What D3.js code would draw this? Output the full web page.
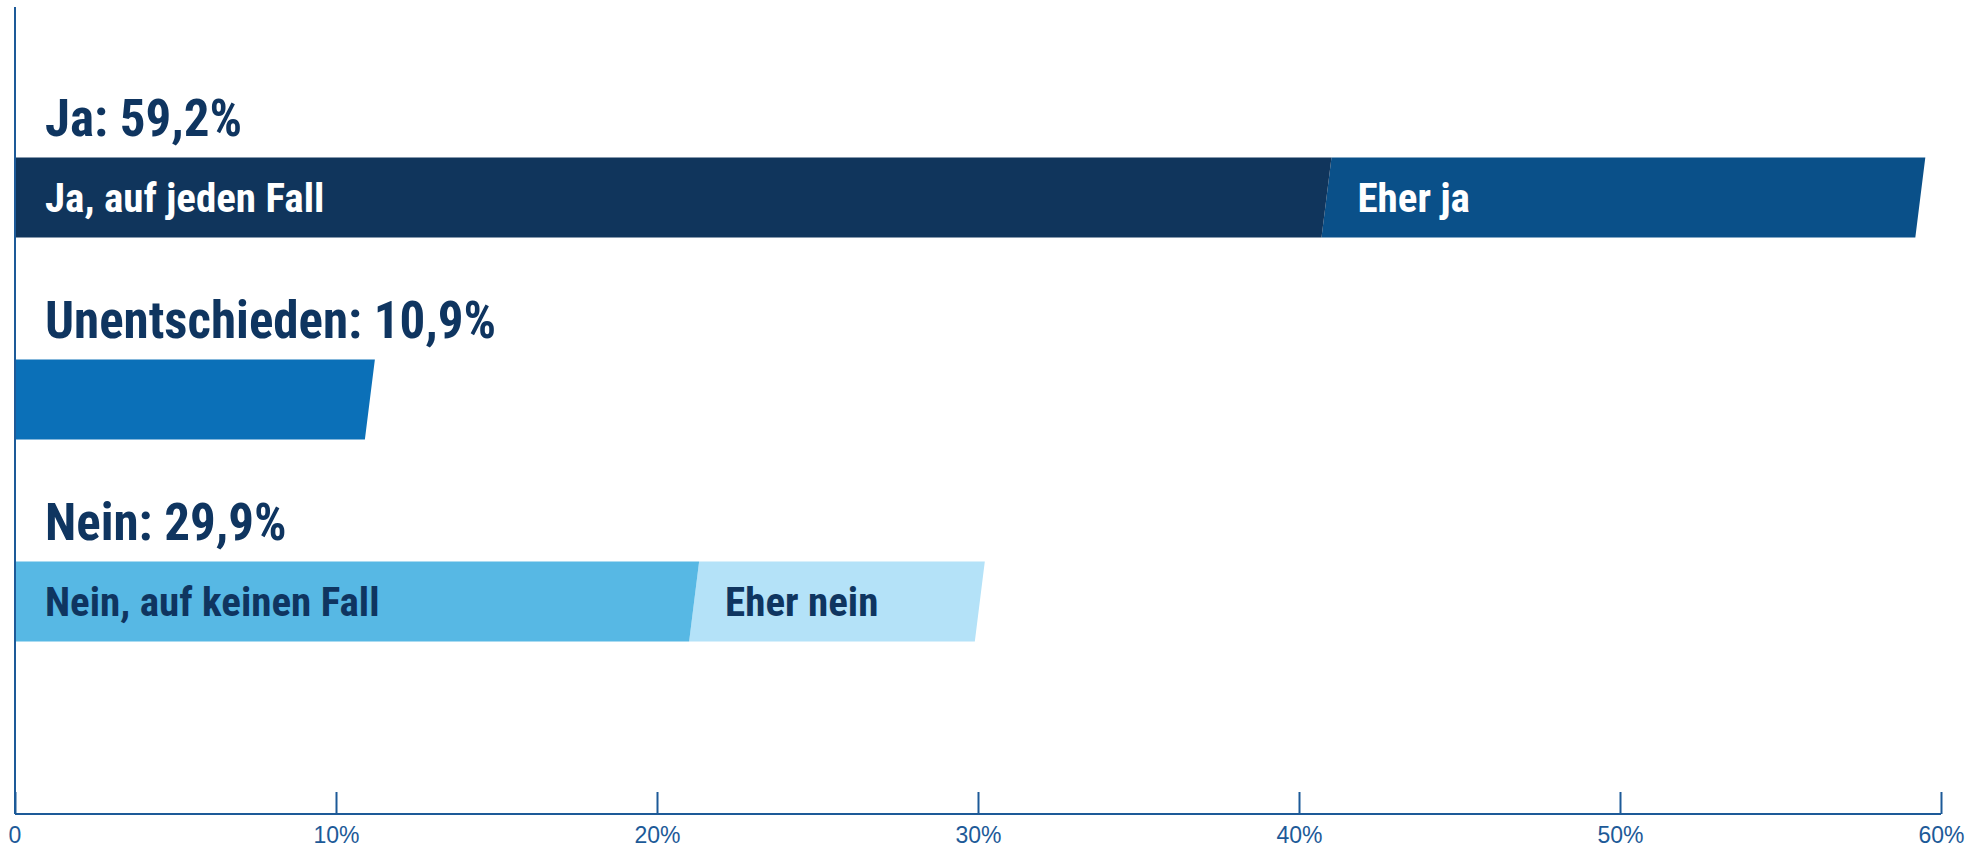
<!DOCTYPE html>
<html>
<head>
<meta charset="utf-8">
<script src="https://cdn.jsdelivr.net/npm/d3@7"></script>
<style>
  body { margin: 0; background: #fff; }
  svg { display: block; }
  text { font-family: "Liberation Sans Narrow", "Arial Narrow", "Roboto Condensed", sans-serif; }
</style>
</head>
<body>
<svg id="chart" width="1986" height="849"></svg>
<script>
// categories and totals
var categories = ["Ja", "Unentschieden", "Nein"];
var titles = ["Ja: 59,2%", "Unentschieden: 10,9%", "Nein: 29,9%"];
// segments per category (values in %)
var segLabels = [["Ja, auf jeden Fall", "Eher ja"], [""], ["Nein, auf keinen Fall", "Eher nein"]];
var segValues = [[40.7, 18.5], [10.9], [21.0, 8.9]];
var segColors = [["#10355c", "#0a5089"], ["#0b70b8"], ["#57b8e4", "#b4e2f8"]];
var segText = [["#ffffff", "#ffffff"], ["#ffffff"], ["#0f3560", "#0f3560"]];
var ticks = [0, 10, 20, 30, 40, 50, 60];
var tickLabels = ["0", "10%", "20%", "30%", "40%", "50%", "60%"];

var svg = d3.select("#chart");
var axisCol = "#1d5a98";
var navy = "#0f3560";

var x = d3.scaleLinear().domain([0, 60]).range([15, 1941]);
var y = d3.scaleBand().domain(categories).range([157.5, 763.5]);
var barH = 80, slant = 10;

// flatten segments
var segs = [];
categories.forEach(function (c, i) {
  var start = 0;
  segValues[i].forEach(function (v, j) {
    segs.push({ cat: c, i: i, j: j, x0: start, x1: start + v,
      label: segLabels[i][j], color: segColors[i][j], tc: segText[i][j] });
    start += v;
  });
});

// draw later segments first so the first sits on top
svg.selectAll("path.seg")
  .data(segs.slice().sort((a, b) => b.j - a.j))
  .enter()
  .append("path")
  .attr("class", "seg")
  .attr("fill", d => d.color)
  .attr("d", function (d) {
    var top = y(d.cat), bot = top + barH;
    var lb = x(d.x0), lt = d.j === 0 ? x(d.x0) : x(d.x0) + slant;
    var rb = x(d.x1), rt = x(d.x1) + slant;
    return "M" + lb + "," + bot + "L" + lt + "," + top + "L" + rt + "," + top + "L" + rb + "," + bot + "Z";
  });

svg.selectAll("text.seg")
  .data(segs.filter(d => d.label))
  .enter()
  .append("text")
  .attr("class", "seg")
  .attr("x", d => d.j === 0 ? x(d.x0) + 30 : x(d.x0) + 36)
  .attr("y", d => y(d.cat) + 54)
  .attr("fill", d => d.tc)
  .style("font-size", "41px")
  .style("font-weight", "bold")
  .text(d => d.label);

svg.selectAll("text.title")
  .data(categories)
  .enter()
  .append("text")
  .attr("class", "title")
  .attr("x", x(0) + 30)
  .attr("y", d => y(d) - 22)
  .attr("fill", navy)
  .style("font-size", "51px")
  .style("font-weight", "bold")
  .text((d, i) => titles[i]);

// axes
svg.append("line")
  .attr("x1", x(0)).attr("x2", x(0))
  .attr("y1", 7).attr("y2", 814)
  .attr("stroke", axisCol).attr("stroke-width", 2);

var xAxis = d3.axisBottom(x)
  .tickValues(ticks)
  .tickSize(-22)
  .tickPadding(12)
  .tickFormat((d, i) => tickLabels[i]);

var gx = svg.append("g")
  .attr("transform", "translate(0,814)")
  .call(xAxis);
gx.select(".domain").attr("stroke", axisCol).attr("stroke-width", 2).attr("d", "M" + x(0) + ",0H" + x(60));
gx.selectAll(".tick line").attr("stroke", axisCol).attr("stroke-width", 2);
gx.selectAll(".tick text")
  .attr("fill", axisCol)
  .attr("y", 29)
  .attr("dy", 0)
  .style("font-size", "23px")
  .style("font-family", "\"Liberation Sans Narrow\", \"Arial Narrow\", sans-serif");
gx.select(".tick text").attr("text-anchor", "start").attr("x", -7);
</script>
</body>
</html>
